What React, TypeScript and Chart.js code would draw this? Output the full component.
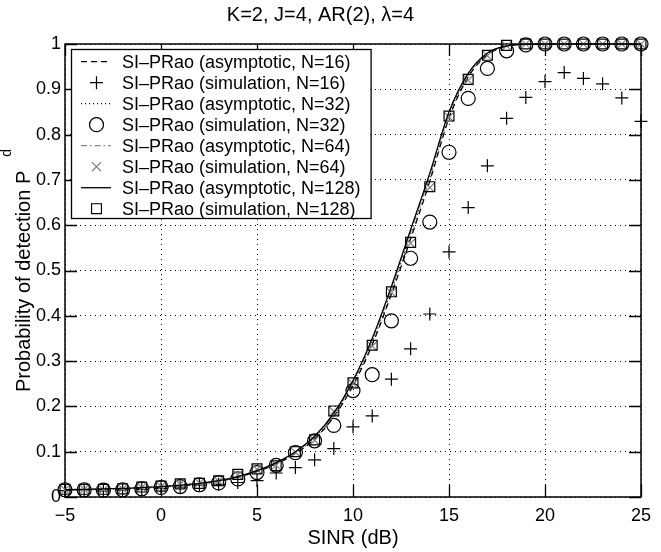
import React, { useEffect, useRef } from "react";
import { Chart, registerables } from "chart.js";

Chart.register(...registerables);

// ---------- data ----------
const sinrDb = [-5, -4, -3, -2, -1, 0, 1, 2, 3, 4, 5, 6, 7, 8, 9, 10, 11, 12, 13, 14, 15, 16, 17, 18, 19, 20, 21, 22, 23, 24, 25];

const asym16 = [0.015, 0.016, 0.017, 0.018, 0.020, 0.022, 0.025, 0.029, 0.035, 0.044, 0.056, 0.073, 0.096, 0.128, 0.177, 0.246, 0.336, 0.448, 0.570, 0.697, 0.836, 0.927, 0.976, 0.995, 0.999, 1, 1, 1, 1, 1, 1];
const sim16 = [0.014, 0.016, 0.013, 0.015, 0.017, 0.019, 0.022, 0.026, 0.028, 0.032, 0.036, 0.053, 0.065, 0.082, 0.107, 0.155, 0.179, 0.260, 0.327, 0.404, 0.541, 0.639, 0.731, 0.836, 0.882, 0.917, 0.937, 0.924, 0.912, 0.881, 0.829];
const asym32 = [0.016, 0.016, 0.017, 0.018, 0.020, 0.022, 0.025, 0.029, 0.035, 0.044, 0.057, 0.074, 0.098, 0.131, 0.181, 0.251, 0.343, 0.456, 0.580, 0.706, 0.843, 0.931, 0.978, 0.995, 0.999, 1, 1, 1, 1, 1, 1];
const sim32 = [0.016, 0.016, 0.015, 0.016, 0.018, 0.021, 0.023, 0.027, 0.031, 0.040, 0.054, 0.070, 0.098, 0.124, 0.158, 0.235, 0.270, 0.389, 0.527, 0.607, 0.761, 0.880, 0.946, 0.985, 0.998, 1, 1, 1, 1, 1, 1];
const asym64 = [0.016, 0.017, 0.018, 0.019, 0.021, 0.023, 0.026, 0.030, 0.036, 0.045, 0.058, 0.075, 0.099, 0.133, 0.183, 0.254, 0.347, 0.461, 0.585, 0.711, 0.847, 0.933, 0.979, 0.996, 0.9995, 1, 1, 1, 1, 1, 1];
const sim64 = [0.016, 0.017, 0.016, 0.018, 0.021, 0.023, 0.028, 0.031, 0.035, 0.049, 0.061, 0.070, 0.099, 0.125, 0.189, 0.250, 0.333, 0.451, 0.560, 0.683, 0.839, 0.920, 0.974, 0.996, 1, 1, 1, 1, 1, 1, 1];
const asym128 = [0.016, 0.017, 0.018, 0.019, 0.021, 0.023, 0.026, 0.030, 0.036, 0.045, 0.058, 0.076, 0.100, 0.134, 0.185, 0.257, 0.350, 0.465, 0.590, 0.715, 0.850, 0.935, 0.980, 0.996, 0.9995, 1, 1, 1, 1, 1, 1];
const sim128 = [0.017, 0.017, 0.017, 0.018, 0.022, 0.024, 0.029, 0.030, 0.036, 0.050, 0.062, 0.069, 0.100, 0.126, 0.190, 0.252, 0.335, 0.453, 0.562, 0.685, 0.841, 0.922, 0.975, 0.997, 1, 1, 1, 1, 1, 1, 1];

const seriesLabels = [
  "SI–PRao (asymptotic, N=16)",
  "SI–PRao (simulation, N=16)",
  "SI–PRao (asymptotic, N=32)",
  "SI–PRao (simulation, N=32)",
  "SI–PRao (asymptotic, N=64)",
  "SI–PRao (simulation, N=64)",
  "SI–PRao (asymptotic, N=128)",
  "SI–PRao (simulation, N=128)",
];
const seriesValues = [asym16, sim16, asym32, sim32, asym64, sim64, asym128, sim128];

const xTicks = [-5, 0, 5, 10, 15, 20, 25];
const yTicks = [0, 0.1, 0.2, 0.3, 0.4, 0.5, 0.6, 0.7, 0.8, 0.9, 1];

const titleText = "K=2, J=4, AR(2), λ=4";
const xTitle = "SINR (dB)";
const yTitleMain = "Probability of detection P";
const yTitleSub = "d";

// ---------- styles ----------
const FONT = "'Liberation Sans', Arial, Helvetica, sans-serif";
type Style = { line: boolean; dash?: number[]; color: string; marker?: string; radius?: number };
const seriesStyles: Style[] = [
  { line: true, dash: [6, 4], color: "#000" },
  { line: false, color: "#000", marker: "cross", radius: 6.5 },
  { line: true, dash: [1, 3], color: "#000" },
  { line: false, color: "#000", marker: "circle", radius: 7 },
  { line: true, dash: [6, 3, 1.5, 3], color: "#8a8a8a" },
  { line: false, color: "#808080", marker: "crossRot", radius: 6.5 },
  { line: true, dash: [], color: "#000" },
  { line: false, color: "#000", marker: "rect", radius: 7 },
];

function drawMarker(ctx: CanvasRenderingContext2D, kind: string, x: number, y: number, r: number) {
  ctx.beginPath();
  if (kind === "cross") {
    ctx.moveTo(x - r, y); ctx.lineTo(x + r, y);
    ctx.moveTo(x, y - r); ctx.lineTo(x, y + r);
  } else if (kind === "circle") {
    ctx.arc(x, y, r, 0, Math.PI * 2);
  } else if (kind === "crossRot") {
    const d = r * Math.SQRT1_2;
    ctx.moveTo(x - d, y - d); ctx.lineTo(x + d, y + d);
    ctx.moveTo(x - d, y + d); ctx.lineTo(x + d, y - d);
  } else if (kind === "rect") {
    const s = r * Math.SQRT1_2;
    ctx.rect(x - s, y - s, 2 * s, 2 * s);
  }
  ctx.stroke();
}

const frameTicksPlugin = {
  id: "frameTicks",
  beforeDatasetsDraw(chart: any) {
    const { ctx, chartArea: a, scales } = chart;
    const x = scales.x, y = scales.y;
    ctx.save();
    ctx.strokeStyle = "#000";
    ctx.lineWidth = 1.3;
    const L = 12;
    ctx.beginPath();
    xTicks.forEach((v) => {
      const px = Math.round(x.getPixelForValue(v)) + 0.5;
      ctx.moveTo(px, a.bottom); ctx.lineTo(px, a.bottom - L);
      ctx.moveTo(px, a.top); ctx.lineTo(px, a.top + L);
    });
    yTicks.forEach((v) => {
      const py = Math.round(y.getPixelForValue(v)) + 0.5;
      ctx.moveTo(a.left, py); ctx.lineTo(a.left + L, py);
      ctx.moveTo(a.right, py); ctx.lineTo(a.right - L, py);
    });
    ctx.stroke();
    ctx.lineWidth = 1.5;
    ctx.strokeRect(a.left, a.top, a.right - a.left, a.bottom - a.top);
    ctx.restore();
  },
  afterDraw(chart: any) {
    const { ctx, chartArea: a } = chart;
    // ----- legend -----
    ctx.save();
    ctx.font = `18px ${FONT}`;
    const boxL = a.left + 6;
    const boxT = a.top + 5;
    const rowH = 21;
    const textX = boxL + 51;
    let maxW = 0;
    chart.data.datasets.forEach((d: any) => { maxW = Math.max(maxW, ctx.measureText(d.label).width); });
    const boxW = textX + maxW + 10 - boxL;
    const boxH = rowH * chart.data.datasets.length + 1;
    ctx.fillStyle = "#fff";
    ctx.fillRect(boxL, boxT, boxW, boxH);
    ctx.strokeStyle = "#000";
    ctx.lineWidth = 1.3;
    ctx.strokeRect(boxL + 0.5, boxT + 0.5, boxW, boxH);
    chart.data.datasets.forEach((d: any, i: number) => {
      const st = seriesStyles[i];
      const cy = boxT + 12.7 + rowH * i;
      ctx.strokeStyle = st.color;
      if (st.line) {
        ctx.lineWidth = 1.3;
        ctx.setLineDash(st.dash || []);
        ctx.beginPath();
        ctx.moveTo(boxL + 10, cy); ctx.lineTo(boxL + 40, cy);
        ctx.stroke();
        ctx.setLineDash([]);
      } else {
        ctx.lineWidth = 1.2;
        drawMarker(ctx, st.marker!, boxL + 25.5, cy, st.radius!);
      }
      ctx.fillStyle = "#000";
      ctx.textBaseline = "middle";
      ctx.textAlign = "left";
      ctx.fillText(d.label, textX, cy + 1);
    });
    ctx.restore();

    // ----- y axis title with raised subscript -----
    ctx.save();
    ctx.fillStyle = "#000";
    ctx.font = `20px ${FONT}`;
    const wMain = ctx.measureText(yTitleMain).width;
    ctx.font = `14px ${FONT}`;
    const wSub = ctx.measureText(yTitleSub).width;
    const gap = 14;
    const total = wMain + gap + wSub;
    const cy = (a.top + a.bottom) / 2;
    ctx.translate(30, cy + total / 2);
    ctx.rotate(-Math.PI / 2);
    ctx.textAlign = "left";
    ctx.textBaseline = "alphabetic";
    ctx.font = `20px ${FONT}`;
    ctx.fillText(yTitleMain, 0, 0);
    ctx.font = `14px ${FONT}`;
    ctx.fillText(yTitleSub, wMain + gap, -19);
    ctx.restore();
  },
};

export default function App() {
  const ref = useRef<HTMLCanvasElement>(null);
  useEffect(() => {
    const datasets = seriesValues.map((vals, i) => {
      const st = seriesStyles[i];
      const data = sinrDb.map((x, k) => ({ x, y: vals[k] }));
      const base: any = {
        label: seriesLabels[i],
        data,
        clip: false,
        order: seriesValues.length - i,
      };
      if (st.line) {
        return {
          ...base,
          showLine: true,
          borderColor: st.color,
          borderWidth: 1.3,
          borderDash: st.dash,
          pointRadius: 0,
          pointHoverRadius: 0,
          cubicInterpolationMode: "monotone",
          fill: false,
        };
      }
      return {
        ...base,
        showLine: false,
        borderColor: st.color,
        pointStyle: st.marker,
        pointRadius: st.radius,
        pointHoverRadius: st.radius,
        pointBorderColor: st.color,
        pointBackgroundColor: "rgba(0,0,0,0)",
        pointBorderWidth: 1.2,
      };
    });

    const chart = new Chart(ref.current as HTMLCanvasElement, {
      type: "scatter",
      data: { datasets: datasets as any },
      options: {
        animation: false,
        responsive: false,
        devicePixelRatio: 1,
        events: [],
        layout: { padding: { left: 0, right: 20, top: 0, bottom: 0 } },
        plugins: {
          legend: { display: false },
          tooltip: { enabled: false },
          title: {
            display: true,
            text: titleText,
            color: "#000",
            font: { family: FONT, size: 20, weight: "normal" as any, lineHeight: 1.2 },
            padding: { top: 3, bottom: 17 },
          },
        },
        scales: {
          x: {
            type: "linear",
            min: -5,
            max: 25,
            afterFit: (s: any) => { s.height = 55; },
            afterBuildTicks: (s: any) => { s.ticks = xTicks.map((v) => ({ value: v })); },
            ticks: {
              color: "#000",
              font: { family: FONT, size: 18 },
              padding: 8,
              maxRotation: 0,
              autoSkip: false,
              callback: (v: any) => String(v).replace("-", "−"),
            },
            grid: { color: "#000", lineWidth: 1, drawTicks: false },
            border: { display: false, dash: [1, 4] },
            title: {
              display: true,
              text: xTitle,
              color: "#000",
              font: { family: FONT, size: 20, lineHeight: 1.2 },
              padding: { top: 0, bottom: 2 },
            },
          },
          y: {
            type: "linear",
            min: 0,
            max: 1,
            afterFit: (s: any) => { s.width = 65; },
            afterBuildTicks: (s: any) => { s.ticks = yTicks.map((v) => ({ value: v })); },
            ticks: {
              color: "#000",
              font: { family: FONT, size: 18 },
              padding: 4,
              autoSkip: false,
              callback: (v: any) => {
                const n = Number(Number(v).toFixed(1));
                return String(n);
              },
            },
            grid: { color: "#000", lineWidth: 1, drawTicks: false },
            border: { display: false, dash: [1, 4] },
          },
        },
      },
      plugins: [frameTicksPlugin],
    });
    return () => chart.destroy();
  }, []);

  return (
    <div style={{ position: "fixed", left: 0, top: 0, width: 661, height: 552, background: "#fff" }}>
      <canvas ref={ref} width={661} height={552} style={{ display: "block", width: 661, height: 552 }} />
    </div>
  );
}
